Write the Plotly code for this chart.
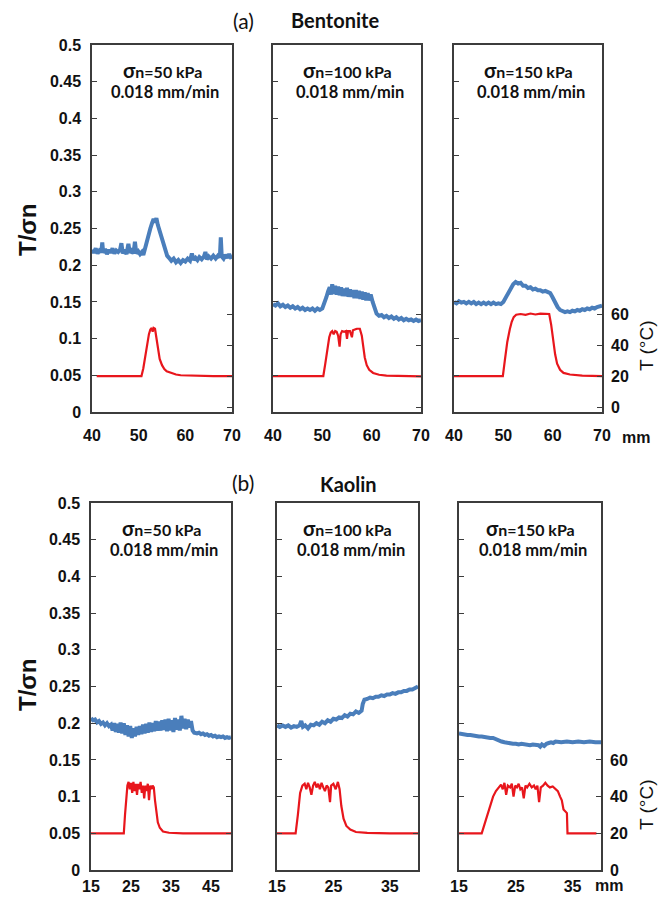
import plotly.graph_objects as go

# The page body keeps its default 8 px margin, so the figure is 16 px smaller
# than the window and every target position below is given in window pixels.
PAGE_W, PAGE_H, BODY = 672, 902, 8
W, H = PAGE_W - 2 * BODY, PAGE_H - 2 * BODY

# ---------------- data ----------------
# (a) Bentonite, normalised shear stress T/σn vs displacement (mm)
bent50_x = [40.0, 40.4, 40.8, 41.2, 41.6, 42.0, 42.2, 42.4, 42.8, 43.2, 43.6, 44.0, 44.4, 44.8, 45.2, 45.6, 46.0, 46.3, 46.6, 47.0,
            47.4, 47.8, 48.1, 48.5, 48.9, 49.2, 49.5, 49.9, 50.3, 50.7, 51.0, 51.3, 51.7, 52.1, 52.5, 52.9, 53.2, 53.5, 53.8, 54.1,
            54.5, 54.9, 55.3, 55.7, 56.1, 56.5, 57.0, 57.5, 58.0, 58.5, 59.0, 59.5, 60.0, 60.5, 61.0, 61.4, 61.8, 62.2, 62.6, 63.0,
            63.5, 64.0, 64.3, 64.6, 65.0, 65.5, 66.0, 66.5, 67.0, 67.4, 67.6, 67.8, 68.2, 68.6, 69.0, 69.4, 69.7, 70.0]
bent50_ts = [0.221, 0.217, 0.223, 0.216, 0.220, 0.218, 0.231, 0.217, 0.222, 0.215, 0.221, 0.217, 0.223, 0.216, 0.220, 0.218, 0.221, 0.230, 0.216, 0.221,
             0.215, 0.229, 0.217, 0.220, 0.216, 0.232, 0.216, 0.219, 0.215, 0.218, 0.214, 0.222, 0.232, 0.242, 0.250, 0.258, 0.263, 0.258, 0.264, 0.255,
             0.247, 0.236, 0.228, 0.219, 0.213, 0.210, 0.206, 0.209, 0.204, 0.207, 0.203, 0.207, 0.205, 0.209, 0.206, 0.216, 0.207, 0.210, 0.207, 0.211,
             0.208, 0.212, 0.218, 0.208, 0.212, 0.209, 0.213, 0.209, 0.213, 0.211, 0.238, 0.212, 0.209, 0.214, 0.210, 0.215, 0.211, 0.212]
bent50_tx = [41.0, 44.0, 47.0, 50.6, 51.0, 51.4, 51.8, 52.2, 52.5, 52.8, 53.0, 53.2, 53.5, 53.8, 54.1, 54.5, 55.0, 55.5, 56.0, 57.0, 58.0, 59.0, 62.0, 66.0, 70.0]
bent50_temp = [20, 20, 20, 20, 25, 33, 41, 47, 50, 51, 48.5, 51, 50.5, 44, 37, 31, 27, 24.5, 23, 21.8, 21, 20.5, 20.2, 20, 20]

bent100_x = [40.0, 40.5, 41.0, 41.5, 42.0, 42.5, 43.0, 43.5, 44.0, 44.5, 45.0, 45.5, 46.0, 46.5, 47.0, 47.5, 48.0, 48.5, 49.0, 49.5,
             50.0, 50.4, 50.8, 51.2, 51.5, 51.8, 52.0, 52.3, 52.6, 52.9, 53.2, 53.5, 53.8, 54.1, 54.4, 54.7, 55.0, 55.3, 55.6, 55.9,
             56.2, 56.5, 56.8, 57.1, 57.4, 57.7, 58.0, 58.3, 58.6, 58.9, 59.2, 59.5, 59.8, 60.2, 60.6, 61.0, 61.5, 62.0, 62.5, 63.0,
             63.5, 64.0, 64.5, 65.0, 65.5, 66.0, 66.5, 67.0, 67.5, 68.0, 68.5, 69.0, 69.5, 70.0]
bent100_ts = [0.147, 0.145, 0.148, 0.144, 0.146, 0.143, 0.145, 0.142, 0.144, 0.141, 0.143, 0.140, 0.142, 0.139, 0.141, 0.139, 0.141, 0.138, 0.141, 0.139,
              0.141, 0.147, 0.156, 0.165, 0.170, 0.160, 0.174, 0.161, 0.172, 0.160, 0.171, 0.159, 0.170, 0.158, 0.168, 0.158, 0.169, 0.157, 0.167, 0.157,
              0.166, 0.155, 0.166, 0.155, 0.165, 0.154, 0.164, 0.153, 0.163, 0.152, 0.162, 0.152, 0.160, 0.150, 0.140, 0.134, 0.131, 0.132, 0.129, 0.131,
              0.128, 0.130, 0.127, 0.129, 0.126, 0.128, 0.125, 0.127, 0.125, 0.126, 0.124, 0.126, 0.124, 0.125]
bent100_tx = [40.0, 45.0, 50.2, 50.6, 51.0, 51.4, 51.7, 52.0, 52.3, 52.6, 52.9, 53.2, 53.5, 53.7, 54.0, 54.4, 54.8, 55.0, 55.2, 55.6,
              56.0, 56.2, 56.6, 57.0, 57.6, 58.0, 58.3, 58.6, 59.0, 59.5, 60.3, 61.5, 63.0, 66.0, 70.0]
bent100_temp = [20, 20, 20, 28, 38, 45, 48, 49, 47, 49, 48.5, 46, 39, 47, 49, 48.5, 49, 44, 49, 49,
                45, 49.5, 50, 50.5, 50.5, 46, 39, 32, 27, 24, 22, 20.8, 20.3, 20, 19.8]

bent150_x = [40.0, 40.5, 41.0, 41.5, 42.0, 42.5, 43.0, 43.5, 44.0, 44.5, 45.0, 45.5, 46.0, 46.5, 47.0, 47.5, 48.0, 48.5, 49.0, 49.5,
             50.0, 50.5, 51.0, 51.5, 52.0, 52.5, 53.0, 53.5, 54.0, 54.5, 55.0, 55.5, 56.0, 56.5, 57.0, 57.5, 58.0, 58.5, 59.0, 59.5,
             60.0, 60.5, 61.0, 61.5, 62.0, 62.5, 63.0, 63.5, 64.0, 64.5, 65.0, 65.5, 66.0, 66.5, 67.0, 67.5, 68.0, 68.5, 69.0, 69.5, 70.0]
bent150_ts = [0.150, 0.148, 0.151, 0.149, 0.150, 0.148, 0.150, 0.148, 0.150, 0.147, 0.149, 0.147, 0.149, 0.147, 0.149, 0.147, 0.149, 0.147, 0.148, 0.147,
              0.150, 0.156, 0.163, 0.170, 0.174, 0.177, 0.175, 0.176, 0.172, 0.172, 0.169, 0.170, 0.167, 0.168, 0.166, 0.166, 0.164, 0.165, 0.163, 0.162,
              0.156, 0.149, 0.143, 0.139, 0.137, 0.136, 0.137, 0.136, 0.138, 0.137, 0.139, 0.138, 0.140, 0.139, 0.141, 0.140, 0.142, 0.141, 0.143, 0.144, 0.145]
bent150_tx = [40.0, 45.0, 49.9, 50.3, 50.8, 51.3, 51.7, 52.1, 52.6, 53.5, 54.5, 55.5, 56.5, 57.5, 58.5, 59.3, 59.7, 60.1, 60.5, 60.9,
              61.5, 62.2, 63.5, 66.0, 70.0]
bent150_temp = [20, 20, 20, 30, 42, 50, 55, 58, 59.5, 60, 59.5, 60.3, 59.7, 60.2, 60, 60, 53, 43, 34, 28,
                24, 22, 21, 20.3, 20]

# (b) Kaolin
kao50_x = [15.0, 15.5, 16.0, 16.5, 17.0, 17.5, 18.0, 18.5, 19.0, 19.5, 20.0, 20.4, 20.8, 21.2, 21.6, 22.0, 22.4, 22.8, 23.2, 23.6,
           24.0, 24.4, 24.8, 25.2, 25.6, 26.0, 26.4, 26.8, 27.2, 27.6, 28.0, 28.4, 28.8, 29.2, 29.6, 30.0, 30.4, 30.8, 31.2, 31.6,
           32.0, 32.4, 32.8, 33.2, 33.6, 34.0, 34.4, 34.8, 35.2, 35.6, 36.0, 36.4, 36.8, 37.2, 37.6, 38.0, 38.4, 38.8, 39.2, 39.6,
           40.0, 40.4, 40.8, 41.5, 42.0, 42.5, 43.0, 43.5, 44.0, 44.5, 45.0, 45.5, 46.0, 46.5, 47.0, 47.5, 48.0, 48.5, 49.0, 49.5, 50.0]
kao50_ts = [0.207, 0.204, 0.205, 0.201, 0.203, 0.199, 0.201, 0.197, 0.200, 0.196, 0.198, 0.190, 0.200, 0.188, 0.199, 0.187, 0.201, 0.186, 0.200, 0.184,
            0.197, 0.182, 0.196, 0.180, 0.193, 0.182, 0.195, 0.184, 0.196, 0.185, 0.198, 0.186, 0.199, 0.187, 0.201, 0.188, 0.200, 0.189, 0.203, 0.190,
            0.202, 0.190, 0.204, 0.191, 0.205, 0.189, 0.206, 0.190, 0.204, 0.188, 0.207, 0.191, 0.205, 0.190, 0.210, 0.193, 0.206, 0.192, 0.205, 0.194,
            0.203, 0.190, 0.187, 0.186, 0.187, 0.185, 0.186, 0.184, 0.185, 0.183, 0.184, 0.182, 0.183, 0.181, 0.182, 0.181, 0.182, 0.180, 0.181, 0.180, 0.181]
kao50_tx = [15.0, 20.0, 23.2, 23.5, 23.8, 24.1, 24.4, 24.7, 25.0, 25.3, 25.6, 25.9, 26.2, 26.5, 26.8, 27.1, 27.4, 27.7, 28.0, 28.3,
            28.6, 28.9, 29.2, 29.5, 29.8, 30.1, 30.4, 30.7, 31.0, 31.3, 31.7, 32.2, 33.0, 34.5, 38.0, 50.0]
kao50_temp = [20, 20, 20, 30, 40, 46, 48, 44, 47.5, 42, 48, 43, 47, 41, 47, 44, 48, 42, 46, 39,
              46, 43, 47, 38, 46, 44, 46, 45, 38, 31, 26, 23, 21, 20.3, 20, 20]

kao100_x = [15.0, 15.5, 16.0, 16.5, 17.0, 17.5, 18.0, 18.5, 19.0, 19.3, 19.6, 20.0, 20.5, 21.0, 21.5, 22.0, 22.5, 23.0, 23.5, 24.0,
            24.5, 25.0, 25.5, 26.0, 26.5, 27.0, 27.5, 28.0, 28.5, 29.0, 29.5, 30.0, 30.2, 30.5, 31.0, 31.5, 32.0, 32.5, 33.0, 33.5,
            34.0, 34.5, 35.0, 35.5, 36.0, 36.5, 37.0, 37.5, 38.0, 38.5, 39.0, 39.5, 40.0]
kao100_ts = [0.197, 0.195, 0.197, 0.195, 0.197, 0.194, 0.196, 0.195, 0.197, 0.203, 0.195, 0.197, 0.193, 0.198, 0.197, 0.200, 0.198, 0.202, 0.200, 0.204,
             0.202, 0.206, 0.205, 0.208, 0.207, 0.211, 0.209, 0.213, 0.212, 0.216, 0.214, 0.217, 0.226, 0.232, 0.233, 0.235, 0.234, 0.236, 0.236, 0.238,
             0.237, 0.239, 0.239, 0.241, 0.240, 0.242, 0.242, 0.244, 0.244, 0.246, 0.246, 0.248, 0.250]
kao100_tx = [15.0, 18.3, 18.7, 19.1, 19.5, 19.9, 20.2, 20.5, 20.8, 21.1, 21.4, 21.7, 22.0, 22.3, 22.6, 22.9, 23.2, 23.5, 23.8, 24.1,
             24.4, 24.6, 25.0, 25.4, 25.8, 26.1, 26.4, 26.8, 27.3, 28.0, 29.0, 31.0, 35.0, 40.0]
kao100_temp = [20, 20, 30, 42, 46, 47, 44, 47.5, 45, 41, 46, 48, 45, 47, 44, 47.5, 45, 43, 46, 45,
               37, 46, 47, 44, 48, 44, 35, 28, 24, 22, 20.7, 20.2, 20, 20]

kao150_x = [15.0, 15.5, 16.0, 16.5, 17.0, 17.5, 18.0, 18.5, 19.0, 19.5, 20.0, 20.5, 21.0, 21.5, 22.0, 22.5, 23.0, 23.5, 24.0, 24.5,
            25.0, 25.5, 26.0, 26.5, 27.0, 27.5, 28.0, 28.5, 29.0, 29.3, 29.6, 30.0, 30.4, 30.8, 31.2, 31.6, 32.0, 33.0, 34.0, 35.0,
            36.0, 37.0, 38.0, 39.0, 40.0]
kao150_ts = [0.186, 0.185, 0.185, 0.184, 0.184, 0.183, 0.183, 0.182, 0.182, 0.181, 0.181, 0.180, 0.180, 0.178, 0.177, 0.175, 0.174, 0.173, 0.173, 0.172,
             0.172, 0.171, 0.172, 0.171, 0.171, 0.170, 0.171, 0.170, 0.170, 0.168, 0.171, 0.169, 0.172, 0.173, 0.174, 0.173, 0.175, 0.174, 0.175, 0.174,
             0.175, 0.174, 0.175, 0.174, 0.174]
kao150_tx = [15.0, 17.5, 19.0, 19.5, 20.0, 20.5, 21.0, 21.5, 22.0, 22.4, 22.7, 23.0, 23.3, 23.6, 24.0, 24.3, 24.6, 24.9, 25.2, 25.5,
             25.8, 26.1, 26.4, 26.7, 27.0, 27.4, 27.8, 28.2, 28.5, 28.8, 29.1, 29.4, 29.8, 30.2, 30.6, 31.0, 31.5, 32.0, 32.4, 32.8,
             33.1, 33.4, 33.7, 34.0, 34.1, 36.0, 39.2]
kao150_temp = [20, 20, 20, 25, 30, 36, 40, 43, 45, 46.5, 44, 47.5, 41, 46, 45, 47, 40, 46, 45, 47,
               44, 45, 39, 46, 45, 47, 45, 46, 44, 46, 37, 45, 46, 47.5, 46, 45, 45.5, 44, 43, 40,
               38, 33, 32, 31, 20, 20, 20]

# axis ticks / labels
ratio_ticks = [0, 0.05, 0.1, 0.15, 0.2, 0.25, 0.3, 0.35, 0.4, 0.45, 0.5]
ratio_ticktext = ["0", "0.05", "0.1", "0.15", "0.2", "0.25", "0.3", "0.35", "0.4", "0.45", "0.5"]
temp_ticks = [0, 20, 40, 60]
bent_xticks = [40, 50, 60, 70]
kao50_xticks = [15, 25, 35, 45]
kao_xticks = [15, 25, 35]
stress_labels = ["σn=50 kPa", "σn=100 kPa", "σn=150 kPa"]
rate_label = "0.018 mm/min"

# ---------------- styles / geometry (window pixels) ----------------
BLUE = "#4a7ebb"
RED = "#e8161c"
LINE = "#3c3c3c"
TICKFONT = dict(family="Liberation Sans, Arial", size=16, color="#111", weight="bold")
TXTFONT = "Lato, Open Sans, sans-serif"


def px_x(p):
    return (p - BODY) / W


def px_y(p):
    return 1 - (p - BODY) / H


panels = [
    (0, 0, (92, 232), (45, 412), [40, 70], bent_xticks, bent50_x, bent50_ts, bent50_tx, bent50_temp, [-3.2, 233.5]),
    (0, 1, (273, 421), (45, 412), [40, 70], bent_xticks, bent100_x, bent100_ts, bent100_tx, bent100_temp, [-3.2, 233.5]),
    (0, 2, (454, 602), (45, 412), [40, 70], bent_xticks, bent150_x, bent150_ts, bent150_tx, bent150_temp, [-3.2, 233.5]),
    (1, 0, (91, 231), (503, 870), [15, 50], kao50_xticks, kao50_x, kao50_ts, kao50_tx, kao50_temp, [0, 200]),
    (1, 1, (277, 418), (503, 870), [15, 40], kao_xticks, kao100_x, kao100_ts, kao100_tx, kao100_temp, [0, 200]),
    (1, 2, (459, 601), (503, 870), [15, 40], kao_xticks, kao150_x, kao150_ts, kao150_tx, kao150_temp, [0, 200]),
]

fig = go.Figure()
layout = dict(
    width=W, height=H, margin=dict(l=0, r=0, t=0, b=0, autoexpand=False),
    paper_bgcolor="white", plot_bgcolor="white", showlegend=False,
)
annotations = []


def note(x, y, text, font, angle=0):
    annotations.append(dict(x=px_x(x), y=px_y(y), xref="paper", yref="paper", showarrow=False,
                            xanchor="center", yanchor="middle", textangle=angle, text=text, font=font))


for i, (row, col, (x0, x1), (y0, y1), xr, xt, bx, by, rx, ry, tr) in enumerate(panels, start=1):
    sec = i + 6
    fig.add_trace(go.Scatter(x=bx, y=by, mode="lines", line=dict(color=BLUE, width=4),
                             xaxis=f"x{i}", yaxis=f"y{i}", hoverinfo="skip"))
    fig.add_trace(go.Scatter(x=rx, y=ry, mode="lines", line=dict(color=RED, width=2.2),
                             xaxis=f"x{i}", yaxis=f"y{sec}", hoverinfo="skip"))
    layout[f"xaxis{i}"] = dict(
        domain=[px_x(x0), px_x(x1)], anchor=f"y{i}", range=xr,
        tickvals=xt, ticks="", showline=True, mirror=True, linecolor=LINE, linewidth=1.5,
        showgrid=False, zeroline=False, tickfont=TICKFONT,
        ticklabelstandoff=(8 if row == 0 else 1), automargin=False,
    )
    layout[f"yaxis{i}"] = dict(
        domain=[px_y(y1), px_y(y0)], anchor=f"x{i}", range=[0, 0.5],
        tickvals=ratio_ticks, ticktext=ratio_ticktext, ticks="inside", ticklen=5, tickcolor=LINE,
        showline=True, mirror=True, linecolor=LINE, linewidth=1.5, showgrid=False, zeroline=False,
        showticklabels=(col == 0), tickfont=TICKFONT, ticklabelstandoff=6, automargin=False,
    )
    layout[f"yaxis{sec}"] = dict(
        overlaying=f"y{i}", anchor=f"x{i}", side="right", range=tr,
        tickvals=temp_ticks, ticks="inside", ticklen=5, tickcolor=LINE,
        showline=False, showgrid=False, zeroline=False,
        showticklabels=(col == 2), tickfont=TICKFONT, ticklabelstandoff=8, automargin=False,
    )
    cx = (x0 + x1) / 2
    note(cx, y0 + 25, f"<b><span style='font-size:20px'>σ</span>n=" + stress_labels[col][3:] + "</b>",
         dict(family=TXTFONT, size=16, color="#111"))
    note(cx + 3, y0 + 47, f"<b>{rate_label}</b>", dict(family=TXTFONT, size=16.5, color="#111"))

for (lbl, name, ly, nx, ny, ty, tcy, mmx, mmy) in [
    ("(a)", "Bentonite", 20, 335, 20, 230, 346, 636, 437),
    ("(b)", "Kaolin", 482, 348, 484, 685, 805, 609, 885),
]:
    note(243, ly, lbl, dict(family=TXTFONT, size=21, color="#111"))
    note(nx, ny, f"<b>{name}</b>", dict(family=TXTFONT, size=20, color="#111"))
    note(27, ty, "<b>T/σn</b>", dict(family="Liberation Sans, Arial", size=24, color="#111"), angle=-90)
    note(646, tcy, "T (°C)", dict(family="Liberation Sans, Arial", size=19, color="#111"), angle=-90)
    note(mmx, mmy, "<b>mm</b>", dict(family="Liberation Sans, Arial", size=16, color="#111"))

layout["annotations"] = annotations
fig.update_layout(**layout)
fig.write_html("out.html")
